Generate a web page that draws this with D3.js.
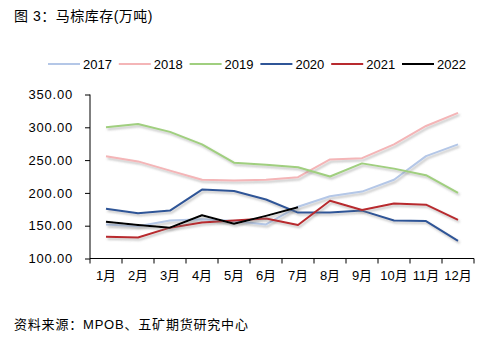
<!DOCTYPE html>
<html>
<head>
<meta charset="utf-8">
<script src="https://cdn.jsdelivr.net/npm/d3@7"></script>
<style>
  body { margin: 0; background: #fff; }
  text { font-family: "Liberation Sans", "Noto Sans CJK SC", sans-serif; }
</style>
</head>
<body>
<div id="chart"></div>
<script>
// data start
var months = ["1月", "2月", "3月", "4月", "5月", "6月", "7月", "8月", "9月", "10月", "11月", "12月"];
var years = ["2017", "2018", "2019", "2020", "2021", "2022"];
var yTicks = [100, 150, 200, 250, 300, 350];
var v2017 = [152, 149, 158, 160, 157, 152, 179, 195, 202, 220, 256, 274];
var v2018 = [256, 248, 234, 220, 219, 220, 224, 251, 253, 274, 302, 322];
var v2019 = [300, 305, 293, 274, 246, 243, 239, 225, 245, 237, 227, 200];
var v2020 = [176, 169, 173, 205, 203, 190, 170, 170, 173, 158, 157, 127];
var v2021 = [133, 132, 147, 155, 158, 161, 151, 188, 174, 184, 182, 159];
var v2022 = [156, 151, 147, 166, 153, 165, 178];
// data end

var series = [v2017, v2018, v2019, v2020, v2021, v2022];
var colors = ["#b4c7e7", "#f4b5b7", "#a0cf7f", "#2f5597", "#b82a2f", "#000000"];

var width = 493, height = 350;
var margin = { top: 95, right: 19, bottom: 92, left: 90 };

var svg = d3.select("#chart").append("svg")
  .attr("width", width)
  .attr("height", height);

var defs = svg.append("defs");
defs.append("filter")
  .attr("id", "shadow")
  .attr("x", "-10%").attr("y", "-10%")
  .attr("width", "120%").attr("height", "140%")
  .append("feDropShadow")
  .attr("dx", 1.5).attr("dy", 2)
  .attr("stdDeviation", 1)
  .attr("flood-color", "#777")
  .attr("flood-opacity", 0.45);

// title
svg.append("text")
  .attr("x", 14).attr("y", 21)
  .attr("font-size", 14)
  .attr("letter-spacing", 0.5)
  .attr("fill", "#000")
  .text("图 3：马棕库存(万吨)");

// footer
svg.append("text")
  .attr("x", 14).attr("y", 329)
  .attr("font-size", 13)
  .attr("letter-spacing", 0.8)
  .attr("fill", "#000")
  .text("资料来源：MPOB、五矿期货研究中心");

var x = d3.scaleBand()
  .domain(months)
  .range([margin.left, width - margin.right]);

var y = d3.scaleLinear()
  .domain([100, 350])
  .range([height - margin.bottom + 0.5, margin.top - 0.5]);

// y axis
var yAxis = svg.append("g")
  .attr("transform", "translate(" + margin.left + ",0)")
  .call(d3.axisLeft(y).tickValues(yTicks).tickSize(5).tickPadding(12)
    .tickFormat(d => d3.format(".2f")(d)));
yAxis.selectAll("text").attr("font-size", 13).attr("letter-spacing", 0.8).attr("fill", "#000");
yAxis.selectAll("line, path").attr("stroke", "#000");
yAxis.select(".domain").attr("d", "M0," + y(350) + "V" + y(100));

// x axis
var xAxis = svg.append("g")
  .attr("transform", "translate(0," + y(100) + ")")
  .call(d3.axisBottom(x).tickSize(0).tickPadding(12));
xAxis.select(".domain").attr("stroke", "#000").attr("d", "M" + margin.left + ",0H" + (width - margin.right));
xAxis.selectAll("text").attr("font-size", 13).attr("fill", "#000");
xAxis.selectAll(".edge")
  .data(d3.range(months.length + 1))
  .enter().append("line")
  .attr("x1", i => margin.left + i * x.bandwidth())
  .attr("x2", i => margin.left + i * x.bandwidth())
  .attr("y1", 0).attr("y2", 5)
  .attr("stroke", "#000");

// lines
var line = d3.line()
  .x((d, i) => x(months[i]) + x.bandwidth() / 2)
  .y(d => y(d));

svg.append("g")
  .selectAll("path")
  .data(series)
  .enter().append("path")
  .attr("d", line)
  .attr("fill", "none")
  .attr("stroke", (d, i) => colors[i])
  .attr("stroke-width", 2)
  .attr("stroke-linejoin", "round")
  .attr("filter", "url(#shadow)");

// legend
var legend = svg.append("g")
  .selectAll("g")
  .data(years)
  .enter().append("g")
  .attr("transform", (d, i) => "translate(" + (48 + i * 70.8) + ",64)");
legend.append("line")
  .attr("x1", 0).attr("x2", 32)
  .attr("stroke", (d, i) => colors[i])
  .attr("stroke-width", 2);
legend.append("text")
  .attr("x", 35).attr("y", 5)
  .attr("font-size", 13)
  .attr("fill", "#000")
  .text(d => d);
</script>
</body>
</html>
